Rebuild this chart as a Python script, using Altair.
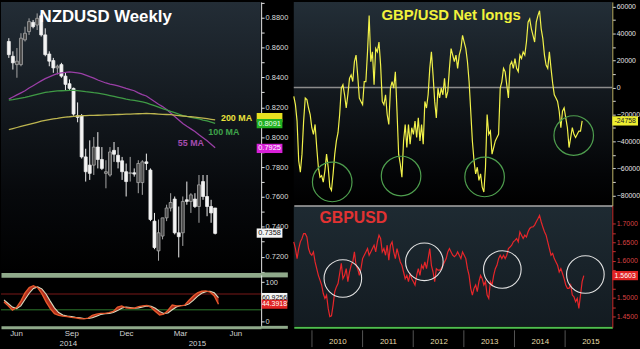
import altair as alt
import pandas as pd

FONT = "Liberation Sans"

# ---------------- NZDUSD weekly candles (May 2014 - May 2015) ----------------
nz_open = [0.8641, 0.8542, 0.8486, 0.8486, 0.8652, 0.8707, 0.8769, 0.8751, 0.8813, 0.8685,
           0.8557, 0.8513, 0.8464, 0.8486, 0.8409, 0.8358, 0.8327, 0.8144, 0.8144, 0.7868,
           0.7813, 0.7813, 0.7934, 0.7851, 0.7758, 0.7747, 0.7912, 0.7879, 0.7842, 0.7769,
           0.7758, 0.7762, 0.7696, 0.7696, 0.7835, 0.7780, 0.7438, 0.7239, 0.7338, 0.7460,
           0.7526, 0.7586, 0.7360, 0.7360, 0.7581, 0.7570, 0.7586, 0.7536, 0.7703, 0.7603,
           0.7536, 0.7526]
nz_high = [0.8663, 0.8575, 0.8597, 0.8696, 0.8740, 0.8796, 0.8785, 0.8829, 0.8829, 0.8729,
           0.8575, 0.8531, 0.8486, 0.8498, 0.8431, 0.8387, 0.8332, 0.8233, 0.8155, 0.7923,
           0.7979, 0.8001, 0.8034, 0.7934, 0.7846, 0.7934, 0.7968, 0.7934, 0.7868, 0.7824,
           0.7868, 0.7791, 0.7846, 0.7846, 0.7890, 0.7791, 0.7493, 0.7449, 0.7460, 0.7548,
           0.7625, 0.7603, 0.7536, 0.7603, 0.7703, 0.7625, 0.7625, 0.7747, 0.7747, 0.7747,
           0.7581, 0.7526]
nz_low = [0.8531, 0.8453, 0.8398, 0.8475, 0.8641, 0.8685, 0.8729, 0.8718, 0.8674, 0.8542,
          0.8475, 0.8431, 0.8420, 0.8398, 0.8310, 0.8310, 0.8144, 0.8100, 0.7857, 0.7703,
          0.7714, 0.7747, 0.7791, 0.7780, 0.7658, 0.7736, 0.7835, 0.7791, 0.7714, 0.7603,
          0.7703, 0.7736, 0.7625, 0.7614, 0.7780, 0.7438, 0.7250, 0.7173, 0.7316, 0.7438,
          0.7503, 0.7349, 0.7195, 0.7272, 0.7548, 0.7493, 0.7526, 0.7427, 0.7581, 0.7471,
          0.7427, 0.7349]
nz_close = [0.8553, 0.8498, 0.8509, 0.8663, 0.8696, 0.8774, 0.8740, 0.8796, 0.8685, 0.8553,
            0.8509, 0.8464, 0.8475, 0.8409, 0.8354, 0.8327, 0.8155, 0.8133, 0.7868, 0.7769,
            0.7758, 0.7934, 0.7851, 0.7791, 0.7769, 0.7901, 0.7886, 0.7835, 0.7769, 0.7703,
            0.7762, 0.7753, 0.7824, 0.7835, 0.7824, 0.7449, 0.7261, 0.7360, 0.7460, 0.7526,
            0.7563, 0.7360, 0.7334, 0.7570, 0.7570, 0.7614, 0.7536, 0.7681, 0.7603, 0.7536,
            0.7493, 0.7356]
ma55 = [0.8255, 0.8269, 0.8283, 0.8297, 0.8311, 0.8329, 0.8345, 0.8361, 0.8377, 0.8392,
        0.8404, 0.8416, 0.8426, 0.8431, 0.8434, 0.8438, 0.8434, 0.8430, 0.8425, 0.8416,
        0.8405, 0.8396, 0.8383, 0.8373, 0.8363, 0.8356, 0.8351, 0.8344, 0.8336, 0.8327,
        0.8319, 0.8311, 0.8297, 0.8285, 0.8276, 0.8257, 0.8239, 0.8221, 0.8205, 0.8186,
        0.8162, 0.8139, 0.8115, 0.8092, 0.8073, 0.8056, 0.8038, 0.8017, 0.7997, 0.7976,
        0.7953, 0.7930]
ma100 = [0.8248, 0.8252, 0.8257, 0.8262, 0.8267, 0.8273, 0.8280, 0.8287, 0.8294, 0.8300,
         0.8303, 0.8307, 0.8310, 0.8311, 0.8312, 0.8313, 0.8314, 0.8312, 0.8309, 0.8305,
         0.8302, 0.8298, 0.8295, 0.8290, 0.8285, 0.8279, 0.8273, 0.8267, 0.8261, 0.8255,
         0.8250, 0.8246, 0.8241, 0.8236, 0.8230, 0.8220, 0.8211, 0.8201, 0.8191, 0.8183,
         0.8173, 0.8164, 0.8154, 0.8145, 0.8139, 0.8133, 0.8127, 0.8122, 0.8115, 0.8109,
         0.8101, 0.8093]
ma200 = [0.8051, 0.8058, 0.8065, 0.8072, 0.8079, 0.8086, 0.8093, 0.8100, 0.8107, 0.8113,
         0.8118, 0.8122, 0.8126, 0.8131, 0.8135, 0.8137, 0.8140, 0.8142, 0.8144, 0.8145,
         0.8146, 0.8146, 0.8147, 0.8148, 0.8149, 0.8150, 0.8151, 0.8152, 0.8153, 0.8154,
         0.8155, 0.8156, 0.8157, 0.8158, 0.8160, 0.8158, 0.8157, 0.8155, 0.8153, 0.8152,
         0.8151, 0.8148, 0.8145, 0.8142, 0.8139, 0.8137, 0.8134, 0.8131, 0.8128, 0.8124,
         0.8120, 0.8116]
stoch_k = [50, 40, 29, 36, 52, 73, 86, 91, 86, 71, 50, 33, 20, 16, 14, 13, 11, 10, 8, 7,
           9, 16, 19, 21, 21, 23, 26, 37, 40, 35, 34, 34, 38, 40, 41, 36, 26, 17, 19, 29,
           42, 40, 40, 42, 54, 65, 73, 77, 78, 75, 65, 44]
stoch_d = [55, 46, 37, 33, 40, 56, 72, 84, 88, 83, 70, 52, 35, 23, 17, 14, 13, 11, 10, 8,
           8, 10, 14, 18, 20, 21, 23, 28, 34, 37, 36, 34, 35, 37, 40, 39, 34, 26, 21, 22,
           30, 37, 41, 41, 45, 54, 64, 72, 76, 77, 73, 61]
nz_ticks = [0.71, 0.72, 0.73, 0.74, 0.75, 0.76, 0.77, 0.78, 0.79, 0.80,
            0.81, 0.82, 0.83, 0.84, 0.85, 0.86, 0.87, 0.88, 0.89]
stoch_ticks = [0, 50, 100]

# ---------------- GBP/USD net longs and spot (late 2009 - May 2015) ----------------
net_longs = [-6600, -12700, -24900, -54300, -62800, -49400, -24900, -7800, -9000, -15200,
             -20000, -29800, -34700, -27400, -44500, -59100, -66500, -65300, -70100, -61600,
             -49400, -59100, -73800, -76300, -64000, -49400, -39600, -33500, -20000, -500,
             2000, -5400, -15200, -5400, 6800, 9300, 4400, 19100, 24000, 9300,
             -7800, -10300, -12700, 4400, 4400, 26400, 53300, 19100, 26400, 2000,
             28800, 26400, 33700, 16600, -10300, -12700, -5400, -20000, -27400, -500,
             4400, -500, 11700, -17600, -49400, -56700, -66500, -39600, -27400, -44500,
             -27400, -42000, -29800, -34700, -24900, -37100, -22500, -39600, -27400, -42000,
             -10300, -15200, -5400, 14200, 26400, 9300, -10300, -22500, -500, -7800,
             -500, -5400, 6800, -7800, -2900, 14200, 28800, 24000, 19100, 24000,
             14200, 24000, 28800, 38600, 33700, 28800, 19100, 4400, -17600, -39600,
             -54300, -64000, -59100, -68900, -64000, -73800, -77500, -59100, -20000, -34700,
             -32300, -49400, -44500, -39600, -37100, -34700, -500, 4400, 14200, 11700,
             2000, -7800, 16600, 19100, 14200, 21500, 14200, 11700, 24000, 21500,
             26400, 24000, 33700, 48400, 50800, 43500, 38600, 33700, 48400, 53300,
             56900, 43500, 36200, 24000, 16600, 14200, 26400, 14200, 3200, -5400,
             -7800, -10300, -17600, -29800, -17600, -15200, -22500, -29800, -44500, -37100,
             -29800, -34700, -37100, -34700, -32300, -32300, -24758]
gbpusd = [1.651, 1.633, 1.606, 1.633, 1.651, 1.660, 1.673, 1.673, 1.664, 1.633,
          1.620, 1.615, 1.624, 1.597, 1.579, 1.561, 1.548, 1.535, 1.512, 1.499,
          1.508, 1.472, 1.450, 1.452, 1.481, 1.517, 1.530, 1.539, 1.566, 1.593,
          1.552, 1.561, 1.579, 1.544, 1.570, 1.588, 1.597, 1.624, 1.588, 1.579,
          1.561, 1.579, 1.606, 1.615, 1.624, 1.633, 1.615, 1.624, 1.633, 1.642,
          1.624, 1.651, 1.669, 1.660, 1.624, 1.633, 1.615, 1.642, 1.602, 1.642,
          1.651, 1.624, 1.606, 1.633, 1.615, 1.597, 1.588, 1.570, 1.552, 1.561,
          1.544, 1.566, 1.552, 1.544, 1.535, 1.561, 1.579, 1.561, 1.588, 1.579,
          1.597, 1.579, 1.606, 1.633, 1.588, 1.570, 1.544, 1.579, 1.575, 1.575,
          1.579, 1.588, 1.597, 1.606, 1.624, 1.633, 1.624, 1.615, 1.611, 1.615,
          1.624, 1.615, 1.606, 1.624, 1.615, 1.606, 1.579, 1.561, 1.526, 1.508,
          1.526, 1.535, 1.517, 1.544, 1.561, 1.552, 1.535, 1.544, 1.508, 1.499,
          1.544, 1.535, 1.561, 1.579, 1.588, 1.606, 1.615, 1.606, 1.615, 1.606,
          1.615, 1.633, 1.637, 1.642, 1.651, 1.655, 1.660, 1.651, 1.678, 1.669,
          1.660, 1.669, 1.664, 1.678, 1.687, 1.691, 1.691, 1.696, 1.705, 1.713,
          1.722, 1.705, 1.691, 1.678, 1.669, 1.651, 1.633, 1.615, 1.620, 1.606,
          1.597, 1.588, 1.570, 1.579, 1.566, 1.552, 1.535, 1.526, 1.526, 1.535,
          1.508, 1.503, 1.490, 1.499, 1.472, 1.508, 1.544, 1.5603]
nl_ticks = [-80000, -70000, -60000, -50000, -40000, -30000, -20000, -10000, 0,
            10000, 20000, 30000, 40000, 50000, 60000]
# 1.55 sits under the last-price box, as in the original
gb_ticks = [1.45, 1.475, 1.50, 1.525, 1.575, 1.60, 1.625, 1.65, 1.675, 1.70]
year_ticks = [2010, 2011, 2012, 2013, 2014, 2015]

# circled zones
green_circle_t = [2010.40, 2011.76, 2013.41, 2015.17]
green_circle_v = [-70000, -65600, -66300, -35600]
white_circle_t = [2010.61, 2012.22, 2013.76, 2015.40]
white_circle_v = [1.5525, 1.5973, 1.5767, 1.5633]

# ---------------- layout ----------------
W_L, H_A, H_B = 263, 276, 53
W_R, H_C, H_D = 322, 206, 123
BOX = "M-1,-0.36L1,-0.36L1,0.36L-1,0.36Z"
BAND = "#8fa98a"

dates = pd.date_range("2014-05-12", periods=len(nz_open), freq="7D")
candles = pd.DataFrame({"date": dates, "open": nz_open, "high": nz_high,
                        "low": nz_low, "close": nz_close})
candles["dir"] = ["up" if c >= o else "down" for o, c in zip(nz_open, nz_close)]
ma_df = pd.DataFrame({"date": list(dates) * 3,
                      "value": ma55 + ma100 + ma200,
                      "ma": ["55"] * len(ma55) + ["100"] * len(ma100) + ["200"] * len(ma200)})
st_df = pd.DataFrame({"date": dates, "k": stoch_k, "d": stoch_d})

t0, dt = 2009.641, 0.03236
nl_df = pd.DataFrame({"t": [t0 + i * dt for i in range(len(net_longs))], "v": net_longs})
gb_df = pd.DataFrame({"t": [t0 + i * dt for i in range(len(gbpusd))], "v": gbpusd})

x_nz_scale = alt.Scale(domain=[alt.DateTime(year=2014, month=5, date=7),
                               alt.DateTime(year=2015, month=7, date=14)])
y_nz_scale = alt.Scale(domain=[0.7078, 0.8906], zero=False, nice=False)
y_st_scale = alt.Scale(domain=[-14.3, 118.3], zero=False, nice=False)
x_r_scale = alt.Scale(domain=[2009.641, 2015.932], zero=False, nice=False)
y_nl_scale = alt.Scale(domain=[-87580, 63450], zero=False, nice=False)
y_gb_scale = alt.Scale(domain=[1.4212, 1.7483], zero=False, nice=False)


def yaxis(values, expr, dom="#e6e6e6", tick="#e6e6e6", lab="#dcdcdc", size=7.5, ext=27):
    return alt.Axis(orient="right", values=values, labelExpr=expr, title=None, grid=False,
                    domainColor=dom, tickColor=tick, tickSize=3, labelColor=lab,
                    labelFontSize=size, labelFont=FONT, labelPadding=1, labelLimit=40,
                    minExtent=ext, maxExtent=ext)


ax_nz_y = yaxis(nz_ticks, "round(datum.value*100) % 2 == 0 ? format(datum.value, '.4f') : ''")
ax_nz_x = alt.Axis(orient="bottom", labels=False, ticks=False, domainColor=BAND,
                   domainWidth=5, title=None, grid=False, minExtent=0, maxExtent=0)
ax_st_y = yaxis(stoch_ticks, "datum.value == 50 ? '' : format(datum.value, 'd')")
ax_st_x = alt.Axis(orient="bottom", title=None, grid=False, ticks=False, format="%b",
                   values=[alt.DateTime(year=2014, month=6, date=1),
                           alt.DateTime(year=2014, month=9, date=1),
                           alt.DateTime(year=2014, month=12, date=1),
                           alt.DateTime(year=2015, month=3, date=1),
                           alt.DateTime(year=2015, month=6, date=1)],
                   labelColor="#d0d0d0", labelFontSize=8, labelFont=FONT, labelPadding=2.5,
                   labelFlush=False, domainColor=BAND, domainWidth=3)
ax_nl_y = yaxis(nl_ticks, "datum.value % 20000 == 0 ? format(datum.value, 'd') : ''",
                dom="#bdb56a", tick="#d8d8d8", lab="#e4e4e4", size=7, ext=26)
ax_nl_x = alt.Axis(orient="bottom", labels=False, ticks=False, domainColor="#a8a8a8",
                   domainWidth=2, title=None, grid=False, minExtent=0, maxExtent=0)
ax_gb_y = yaxis(gb_ticks, "round(datum.value*1000) % 50 == 0 ? format(datum.value, '.4f') : ''",
                dom="#c83030", tick="#c83030", lab="#d84040", size=7, ext=26)
ax_gb_x = alt.Axis(orient="bottom", title=None, grid=False, ticks=False, format="d",
                   values=year_ticks, labelOffset=25.6, labelPadding=10, labelFlush=False,
                   labelColor="#e6dca8", labelFontSize=8, labelFont=FONT,
                   domainColor="#4fbf4f", domainWidth=2)


def grad(stops):
    return alt.Gradient(gradient="linear", x1=0, x2=0, y1=0, y2=1,
                        stops=[alt.GradientStop(color=c, offset=o) for o, c in stops])


def bg_rect(w, h, stops, top=0):
    return alt.Chart(alt.Data(values=[{}])).mark_rect(fill=grad(stops)).encode(
        x=alt.value(0), x2=alt.value(w - 0.5), y=alt.value(top), y2=alt.value(h))


def band_ext(y, width):
    # continuation of the separator band under the axis labels
    return alt.Chart(alt.Data(values=[{}])).mark_rule(color=BAND, strokeWidth=width).encode(
        x=alt.value(W_L), x2=alt.value(W_L + 27), y=alt.value(y))


def title_text(txt, x, y, size, color, align="left"):
    return alt.Chart(alt.Data(values=[{"t": txt}])).mark_text(
        font=FONT, fontSize=size, fontWeight="bold", color=color, align=align,
        baseline="alphabetic").encode(x=alt.value(x), y=alt.value(y), text="t:N")


def value_boxes(df, xenc, yenc, off, width, fsize):
    box = alt.Chart(df).mark_point(shape=BOX, filled=True, size=width * width, opacity=1,
                                   strokeWidth=0, xOffset=off).encode(
        x=xenc, y=yenc, color=alt.Color("bg:N", scale=None))
    txt = alt.Chart(df).mark_text(font=FONT, fontSize=fsize, dx=off, baseline="middle",
                                  align="center").encode(
        x=xenc, y=yenc, text="label:N", color=alt.Color("fg:N", scale=None))
    return box + txt


# ---------------- panel A: candles ----------------
xA = alt.X("date:T", scale=x_nz_scale, axis=ax_nz_x, title=None)
dir_fill = alt.Scale(domain=["down", "up"], range=["#f4f4f4", "#4a4a4a"])
dir_stroke = alt.Scale(domain=["down", "up"], range=["#f0f0f0", "#a8a8a8"])
wicks = alt.Chart(candles).mark_rule(strokeWidth=1).encode(
    x=xA, y=alt.Y("low:Q", scale=y_nz_scale, axis=ax_nz_y, title=None), y2="high:Q",
    stroke=alt.Stroke("dir:N", scale=dir_stroke, legend=None))
bodies = alt.Chart(candles).mark_bar(width=3, strokeWidth=0.8).encode(
    x=xA, y=alt.Y("open:Q", scale=y_nz_scale, axis=ax_nz_y, title=None), y2="close:Q",
    fill=alt.Fill("dir:N", scale=dir_fill, legend=None),
    stroke=alt.Stroke("dir:N", scale=dir_stroke, legend=None))
ma_lines = alt.Chart(ma_df).mark_line(strokeWidth=1.3).encode(
    x=xA, y=alt.Y("value:Q", scale=y_nz_scale, axis=ax_nz_y, title=None),
    color=alt.Color("ma:N", scale=alt.Scale(domain=["55", "100", "200"],
                                            range=["#9a3fa6", "#3f9a45", "#bdb550"]),
                    legend=None))
ma_lab_df = pd.DataFrame({"date": pd.to_datetime(["2015-06-10", "2015-05-19", "2015-03-23"]),
                          "price": [0.8131, 0.8032, 0.7959],
                          "label": ["200 MA", "100 MA", "55 MA"],
                          "fg": ["#ece23c", "#3fa34a", "#a44cae"]})
ma_labels = alt.Chart(ma_lab_df).mark_text(font=FONT, fontSize=9, fontWeight="bold",
                                           baseline="middle").encode(
    x=xA, y=alt.Y("price:Q", scale=y_nz_scale, axis=ax_nz_y, title=None),
    text="label:N", color=alt.Color("fg:N", scale=None))
boxA_df = pd.DataFrame({"date": pd.to_datetime(["2015-07-14"] * 4),
                        "price": [0.8131, 0.8091, 0.7925, 0.7358],
                        "label": ["", "0.8091", "0.7925", "0.7358"],
                        "bg": ["#e8e020", "#22b022", "#d820d8", "#f4f4f4"],
                        "fg": ["#000000", "#eaffea", "#ffffff", "#111111"]})
boxesA = value_boxes(boxA_df, xA, alt.Y("price:Q", scale=y_nz_scale, axis=ax_nz_y, title=None),
                     13.5, 26, 7.5)
panelA = alt.layer(
    bg_rect(W_L, H_A - 2.5, [(0, "#232d36"), (0.7, "#07090c"), (1, "#000000")]),
    wicks, bodies, ma_lines, ma_labels,
    title_text("NZDUSD Weekly", 39, 20, 17, "#ffffff"),
    band_ext(H_A, 5),
    boxesA,
).properties(width=W_L, height=H_A)

# ---------------- panel B: stochastic ----------------
xB = alt.X("date:T", scale=x_nz_scale, axis=ax_st_x, title=None)
lvl_df = pd.DataFrame({"v": [70, 30], "c": ["#7a1818", "#2f7a2f"]})
levels = alt.Chart(lvl_df).mark_rule(strokeWidth=1).encode(
    y=alt.Y("v:Q", scale=y_st_scale, axis=ax_st_y, title=None),
    color=alt.Color("c:N", scale=None))
band = alt.Chart(st_df).mark_area(color="#c4321e", opacity=0.9).encode(
    x=xB, y=alt.Y("k:Q", scale=y_st_scale, axis=ax_st_y, title=None), y2="d:Q")
d_line = alt.Chart(st_df).mark_line(color="#d8dcc0", strokeWidth=1.1).encode(
    x=xB, y=alt.Y("d:Q", scale=y_st_scale, axis=ax_st_y, title=None))
k_line = alt.Chart(st_df).mark_line(color="#e4582c", strokeWidth=1.4).encode(
    x=xB, y=alt.Y("k:Q", scale=y_st_scale, axis=ax_st_y, title=None))
yr_df = pd.DataFrame({"date": pd.to_datetime(["2014-08-27", "2015-03-30"]),
                      "label": ["2014", "2015"]})
yr_text = alt.Chart(yr_df).mark_text(font=FONT, fontSize=8, color="#d0d0d0",
                                     baseline="middle").encode(
    x=xB, y=alt.value(H_B + 16.5), text="label:N")
boxB_df = pd.DataFrame({"date": pd.to_datetime(["2015-07-14"] * 2),
                        "v": [60.9256, 44.3918],
                        "label": ["60.9256", "44.3918"],
                        "bg": ["#f4f4f4", "#e02424"],
                        "fg": ["#111111", "#ffffff"]})
boxesB = value_boxes(boxB_df, xB, alt.Y("v:Q", scale=y_st_scale, axis=ax_st_y, title=None),
                     13.5, 26, 7)
panelB = alt.layer(levels, band, d_line, k_line, yr_text, band_ext(H_B, 3), boxesB).properties(
    width=W_L, height=H_B)

# ---------------- panel C: net longs ----------------
xC = alt.X("t:Q", scale=x_r_scale, axis=ax_nl_x, title=None)
zero_line = alt.Chart(pd.DataFrame({"v": [0]})).mark_rule(color="#8c8c8c", strokeWidth=1.5).encode(
    y=alt.Y("v:Q", scale=y_nl_scale, axis=ax_nl_y, title=None))
nl_line = alt.Chart(nl_df).mark_line(color="#f2f24a", strokeWidth=1.2).encode(
    x=xC, y=alt.Y("v:Q", scale=y_nl_scale, axis=ax_nl_y, title=None))
gc_df = pd.DataFrame({"t": green_circle_t, "v": green_circle_v})
g_circles = alt.Chart(gc_df).mark_point(shape="circle", filled=False, size=1600,
                                        color="#4e9e4e", strokeWidth=1.2, opacity=1).encode(
    x=xC, y=alt.Y("v:Q", scale=y_nl_scale, axis=ax_nl_y, title=None))
boxC_df = pd.DataFrame({"t": [2015.932], "v": [-24758], "label": ["-24758"],
                        "bg": ["#eeee30"], "fg": ["#222222"]})
boxesC = value_boxes(boxC_df, xC, alt.Y("v:Q", scale=y_nl_scale, axis=ax_nl_y, title=None),
                     13, 26, 7)
panelC = alt.layer(
    bg_rect(W_R, H_C - 1, [(0, "#232e37"), (0.85, "#040507"), (1, "#000000")]),
    zero_line, nl_line, g_circles,
    title_text("GBP/USD Net longs", 159, 18, 15, "#f2f23c", align="center"),
    boxesC,
).properties(width=W_R, height=H_C)

# ---------------- panel D: GBPUSD ----------------
xD = alt.X("t:Q", scale=x_r_scale, axis=ax_gb_x, title=None)
gb_line = alt.Chart(gb_df).mark_line(color="#e8262a", strokeWidth=1.2).encode(
    x=xD, y=alt.Y("v:Q", scale=y_gb_scale, axis=ax_gb_y, title=None))
wc_df = pd.DataFrame({"t": white_circle_t, "v": white_circle_v})
w_circles = alt.Chart(wc_df).mark_point(shape="circle", filled=False, size=1444,
                                        color="#e4e4e4", strokeWidth=1.1, opacity=1).encode(
    x=xD, y=alt.Y("v:Q", scale=y_gb_scale, axis=ax_gb_y, title=None))
sep = alt.Chart(pd.DataFrame({"t": year_ticks})).mark_rule(color="#555555").encode(
    x=xD, y=alt.value(H_D + 3), y2=alt.value(H_D + 20))
boxD_df = pd.DataFrame({"t": [2015.932], "v": [1.5603], "label": ["1.5603"],
                        "bg": ["#e02424"], "fg": ["#ffffff"]})
boxesD = value_boxes(boxD_df, xD, alt.Y("v:Q", scale=y_gb_scale, axis=ax_gb_y, title=None),
                     13, 26, 7)
panelD = alt.layer(
    bg_rect(W_R, H_D - 1, [(0, "#1e2a32"), (1, "#131b21")], top=1),
    sep, gb_line, w_circles,
    title_text("GBPUSD", 26, 18, 16, "#e23232"),
    boxesD,
).properties(width=W_R, height=H_D)

left = alt.vconcat(panelA, panelB, spacing=0, bounds="flush")
right = alt.vconcat(panelC, panelD, spacing=0, bounds="flush")
chart = alt.hconcat(left, right, spacing=0, padding=0,
                    background="#000000").configure_view(stroke=None)

chart.save("out.html", embed_options={"renderer": "svg", "actions": False})
